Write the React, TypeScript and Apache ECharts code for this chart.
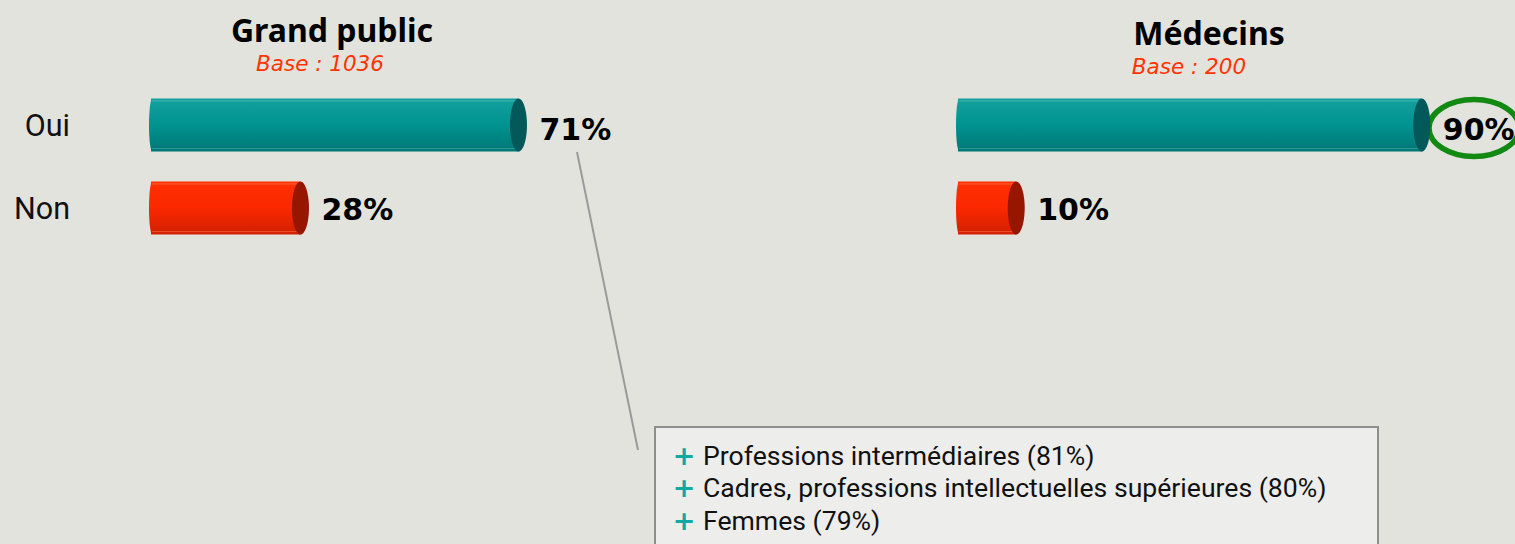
import React, { useEffect, useRef } from "react";
import * as echarts from "echarts";

const categories = ["Oui", "Non"];
const grandPublicValues = [71, 28];
const medecinsValues = [90, 10];
const panelTitles = ["Grand public", "Médecins"];
const panelBases = ["Base : 1036", "Base : 200"];
const annotationItems = [
  "Professions intermédiaires (81%)",
  "Cadres, professions intellectuelles supérieures (80%)",
  "Femmes (79%)",
];

const BODY = [
  { top: "#14a19d", mid: "#009390", bot: "#007775", cap: "#03585a", stripe: "#5cbcb8", dy: 4 },
  { top: "#ff3000", mid: "#fb2800", bot: "#d02000", cap: "#961600", stripe: "#ff7a5c", dy: 1 },
];

function renderBar(params: any, api: any) {
  const v = api.value(0);
  const ci = api.value(1);
  const start = api.coord([0, ci]);
  const end = api.coord([v, ci]);
  const h = api.size([0, 1])[1] * 0.64;
  const cy = start[1];
  const top = cy - h / 2;
  const capRx = 8.5;
  const capX = end[0] + capRx + 1;
  const x0 = start[0];
  const c = BODY[params.dataIndex % 2];
  const grad = new echarts.graphic.LinearGradient(0, 0, 0, 1, [
    { offset: 0, color: c.top },
    { offset: 0.5, color: c.mid },
    { offset: 1, color: c.bot },
  ]);
  return {
    type: "group",
    children: [
      {
        type: "ellipse",
        shape: { cx: x0 + 3, cy, rx: 3, ry: h / 2 - 1 },
        style: { fill: grad },
      },
      {
        type: "rect",
        shape: { x: x0 + 2, y: top, width: capX - x0 - 2, height: h },
        style: { fill: grad },
      },
      {
        type: "line",
        shape: { x1: x0 + 3, y1: top + 2.5, x2: capX, y2: top + 2.5 },
        style: { stroke: c.stripe, lineWidth: 1, opacity: 0.7 },
      },
      {
        type: "line",
        shape: { x1: x0 + 3, y1: top + h - 3, x2: capX, y2: top + h - 3 },
        style: { stroke: c.stripe, lineWidth: 1, opacity: 0.5 },
      },
      {
        type: "ellipse",
        shape: { cx: capX, cy, rx: capRx, ry: h / 2 },
        style: { fill: c.cap },
      },
      {
        type: "text",
        style: {
          text: v + "%",
          x: capX + 21,
          y: cy + c.dy,
          align: "left",
          verticalAlign: "middle",
          font: 'bold 30px "DejaVu Sans"',
          fill: "#000",
        },
      },
    ],
  };
}

export default function App() {
  const ref = useRef<HTMLDivElement>(null);
  useEffect(() => {
    const chart = echarts.init(ref.current!, null, { renderer: "svg" });
    const toData = (vals: number[]) => vals.map((v, i) => [v, categories[i]]);
    const annotationGraphics: any[] = [];
    annotationItems.forEach((t, i) => {
      const y = 455 + i * 32.5;
      annotationGraphics.push({
        type: "text",
        style: {
          text: "+",
          x: 684,
          y,
          align: "center",
          verticalAlign: "middle",
          font: 'bold 27px "DejaVu Sans"',
          fill: "#10a8a2",
        },
      });
      annotationGraphics.push({
        type: "text",
        style: {
          text: t,
          x: 703,
          y,
          align: "left",
          verticalAlign: "middle",
          font: '26.6px Roboto',
          fill: "#111",
        },
      });
    });
    chart.setOption({
      animation: false,
      backgroundColor: "#e3e3de",
      grid: [
        { left: 149, width: 507, top: 83.5, height: 166 },
        { left: 956, width: 507, top: 83.5, height: 166 },
      ],
      xAxis: [
        { gridIndex: 0, type: "value", min: 0, max: 100, show: false },
        { gridIndex: 1, type: "value", min: 0, max: 100, show: false },
      ],
      yAxis: [
        {
          gridIndex: 0,
          type: "category",
          data: categories,
          inverse: true,
          axisLine: { show: false },
          axisTick: { show: false },
          axisLabel: {
            margin: 79,
            fontFamily: "Roboto",
            fontSize: 30.5,
            color: "#111",
          },
        },
        {
          gridIndex: 1,
          type: "category",
          data: categories,
          inverse: true,
          show: false,
        },
      ],
      series: [
        {
          type: "custom",
          xAxisIndex: 0,
          yAxisIndex: 0,
          encode: { x: 0, y: 1 },
          data: toData(grandPublicValues),
          renderItem: renderBar,
        },
        {
          type: "custom",
          xAxisIndex: 1,
          yAxisIndex: 1,
          encode: { x: 0, y: 1 },
          data: toData(medecinsValues),
          renderItem: renderBar,
        },
      ],
      graphic: [
        {
          type: "text",
          style: {
            text: panelTitles[0],
            x: 332,
            y: 29,
            align: "center",
            verticalAlign: "middle",
            font: 'bold 32px "Noto Sans"',
            fill: "#000",
          },
        },
        {
          type: "text",
          style: {
            text: panelTitles[1],
            x: 1209,
            y: 32,
            align: "center",
            verticalAlign: "middle",
            font: 'bold 32px "Noto Sans"',
            fill: "#000",
          },
        },
        {
          type: "text",
          style: {
            text: panelBases[0],
            x: 320,
            y: 63.5,
            align: "center",
            verticalAlign: "middle",
            font: 'italic 21.5px "DejaVu Sans"',
            fill: "#ff3300",
          },
        },
        {
          type: "text",
          style: {
            text: panelBases[1],
            x: 1189,
            y: 66.5,
            align: "center",
            verticalAlign: "middle",
            font: 'italic 21.5px "DejaVu Sans"',
            fill: "#ff3300",
          },
        },
        {
          type: "line",
          shape: { x1: 577, y1: 152, x2: 638, y2: 450 },
          style: { stroke: "#9a9a9a", lineWidth: 2 },
        },
        {
          type: "rect",
          shape: { x: 655, y: 427, width: 723, height: 130 },
          style: { fill: "#ededeb", stroke: "#8e8e8e", lineWidth: 2 },
        },
        ...annotationGraphics,
        {
          type: "ellipse",
          shape: { cx: 1474, cy: 128, rx: 45, ry: 28.5 },
          style: { fill: "none", stroke: "#128a12", lineWidth: 5.5 },
        },
      ],
    });
    return () => chart.dispose();
  }, []);
  return (
    <div
      ref={ref}
      style={{ position: "absolute", left: 0, top: 0, width: 1515, height: 544 }}
    />
  );
}
